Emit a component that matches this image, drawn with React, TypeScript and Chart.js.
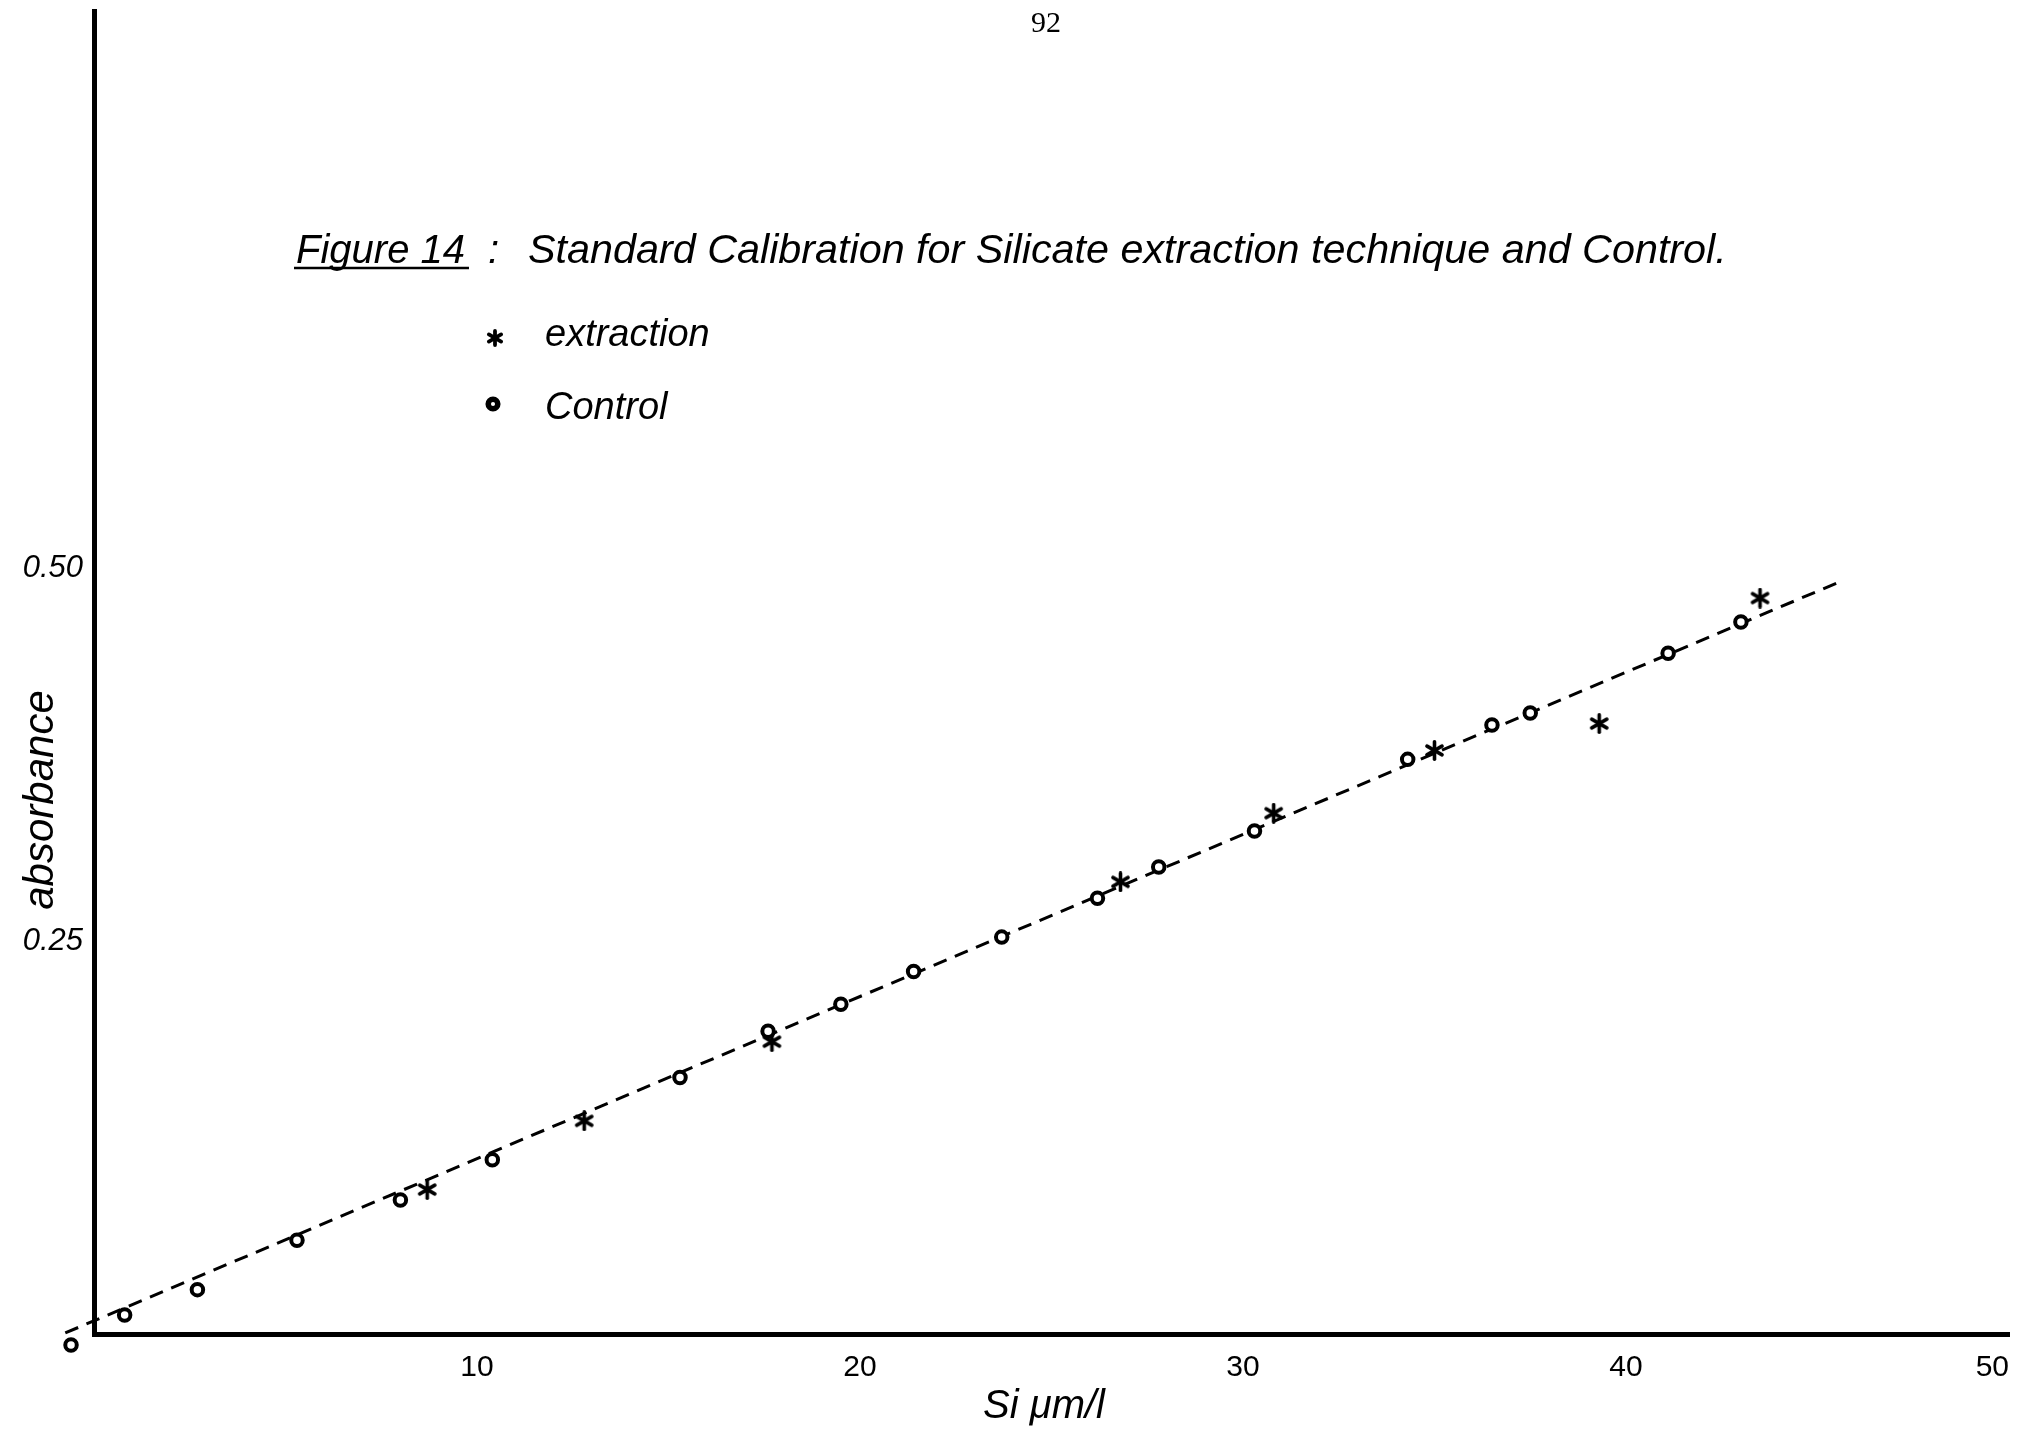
import React, { useEffect, useRef } from "react";
import { Chart, registerables } from "chart.js";

Chart.register(...registerables);

// ---------------- data ----------------
const controlSi = [-0.6, 0.8, 2.7, 5.3, 8.0, 10.4, 15.3, 17.6, 19.5, 21.4, 23.7, 26.2, 27.8, 30.3, 34.3, 36.5, 37.5, 41.1, 43.0];
const controlAbs = [-0.02, 0.0, 0.017, 0.05, 0.077, 0.104, 0.159, 0.19, 0.208, 0.23, 0.253, 0.279, 0.3, 0.324, 0.372, 0.395, 0.403, 0.443, 0.464];
const extractionSi = [8.7, 12.8, 17.7, 26.8, 30.8, 35.0, 39.3, 43.5];
const extractionAbs = [0.084, 0.13, 0.183, 0.29, 0.336, 0.378, 0.396, 0.48];
const fitSi = [-0.75, 45.5];
const fitAbs = [-0.012, 0.49];
const xTickValues = [10, 20, 30, 40, 50];
const yTickValues = [0.25, 0.5];
const yTickLabels = ["0.25", "0.50"];

const pageNumber = "92";
const figureLabel = "Figure 14";
const titleRest = "Standard Calibration for Silicate extraction technique and Control.";
const legendLabels = ["extraction", "Control"];
const xTitle = "Si \u03bcm/l";
const yTitle = "absorbance";

const HAND = '"Liberation Sans", Arial, sans-serif';
const SERIF = '"Liberation Serif", "DejaVu Serif", serif';

function makeAsterisk(size: number, lw: number): HTMLCanvasElement {
  const c = document.createElement("canvas");
  c.width = size;
  c.height = size;
  const g = c.getContext("2d")!;
  g.strokeStyle = "#000";
  g.lineWidth = lw;
  g.lineCap = "round";
  const cx = size / 2;
  const r = size / 2 - lw / 2;
  for (let k = 0; k < 3; k++) {
    const a = Math.PI / 2 + (k * Math.PI) / 3;
    g.beginPath();
    g.moveTo(cx + r * Math.cos(a), cx + r * Math.sin(a));
    g.lineTo(cx - r * Math.cos(a), cx - r * Math.sin(a));
    g.stroke();
  }
  return c;
}

export default function App() {
  const ref = useRef<HTMLCanvasElement>(null);

  useEffect(() => {
    const canvas = ref.current!;
    const star = makeAsterisk(21, 3.6);
    const legendStar = makeAsterisk(18, 3.8);

    // draws points that the library placed just outside the plot area
    const outsidePoints = {
      id: "outsidePoints",
      afterDatasetsDraw(chart: any) {
        const area = chart.chartArea;
        const big = { left: -1e5, top: -1e5, right: 1e5, bottom: 1e5 };
        chart.data.datasets.forEach((_d: any, i: number) => {
          const meta = chart.getDatasetMeta(i);
          for (const el of meta.data) {
            if (el.x < area.left || el.x > area.right || el.y < area.top || el.y > area.bottom) {
              el.draw(chart.ctx, big);
            }
          }
        });
      },
    };

    const annotations = {
      id: "handAnnotations",
      afterDraw(chart: any) {
        const ctx: CanvasRenderingContext2D = chart.ctx;
        ctx.save();
        ctx.fillStyle = "#000";
        ctx.strokeStyle = "#000";

        // page number
        ctx.font = `30px ${SERIF}`;
        ctx.textAlign = "center";
        ctx.textBaseline = "alphabetic";
        ctx.fillText(pageNumber, 1046, 32);

        // title
        ctx.textAlign = "left";
        ctx.font = `italic 40px ${HAND}`;
        ctx.fillText(figureLabel, 296, 263);
        const fw = ctx.measureText(figureLabel).width;
        ctx.lineWidth = 2.5;
        ctx.beginPath();
        ctx.moveTo(294, 268);
        ctx.lineTo(296 + fw + 4, 268);
        ctx.stroke();
        ctx.fillText(":", 488, 263);
        const rw = ctx.measureText(titleRest).width;
        const target = 1727 - 528;
        const size = (40 * target) / rw;
        ctx.font = `italic ${size.toFixed(2)}px ${HAND}`;
        ctx.fillText(titleRest, 528, 263);

        // legend
        ctx.drawImage(legendStar, 495 - legendStar.width / 2, 338 - legendStar.height / 2);
        ctx.lineWidth = 5.5;
        ctx.fillStyle = "#fff";
        ctx.beginPath();
        ctx.arc(493, 404, 4.8, 0, Math.PI * 2);
        ctx.fill();
        ctx.stroke();
        ctx.fillStyle = "#000";
        ctx.font = `italic 38px ${HAND}`;
        ctx.fillText(legendLabels[0], 545, 346);
        ctx.fillText(legendLabels[1], 545, 419);

        // x axis title
        ctx.textAlign = "center";
        ctx.font = `italic 40px ${HAND}`;
        ctx.fillText(xTitle, 1044, 1418);

        // y axis title
        ctx.translate(53, 800);
        ctx.rotate(-Math.PI / 2);
        ctx.font = `italic 42px ${HAND}`;
        ctx.fillText(yTitle, 0, 0);

        ctx.restore();
      },
    };

    const chart = new Chart(canvas, {
      type: "scatter",
      data: {
        datasets: [
          {
            label: legendLabels[1],
            data: controlSi.map((x, i) => ({ x, y: controlAbs[i] })),
            pointStyle: "circle",
            pointRadius: 5.75,
            pointBorderWidth: 4,
            pointBorderColor: "#000",
            pointBackgroundColor: "#fff",
            showLine: false,
            clip: false,
            order: 1,
          } as any,
          {
            label: legendLabels[0],
            data: extractionSi.map((x, i) => ({ x, y: extractionAbs[i] })),
            pointStyle: star,
            pointRadius: 10,
            showLine: false,
            clip: false,
            order: 2,
          } as any,
          {
            label: "fit",
            data: fitSi.map((x, i) => ({ x, y: fitAbs[i] })),
            showLine: true,
            borderColor: "#000",
            borderWidth: 3,
            borderDash: [14, 9],
            pointRadius: 0,
            clip: false,
            order: 3,
          } as any,
        ],
      },
      options: {
        responsive: false,
        maintainAspectRatio: false,
        animation: false,
        devicePixelRatio: 1,
        events: [],
        layout: { padding: { top: 10, right: 12, bottom: 0, left: 0 } },
        plugins: {
          legend: { display: false },
          tooltip: { enabled: false },
          title: { display: false },
        },
        scales: {
          x: {
            type: "linear",
            min: 0,
            max: 50,
            grid: { display: false, drawTicks: false },
            border: { display: true, width: 5, color: "#000" },
            afterBuildTicks: (s: any) => {
              s.ticks = [0, ...xTickValues].map((v) => ({ value: v }));
            },
            ticks: {
              align: "inner",
              padding: 16,
              color: "#000",
              maxRotation: 0,
              autoSkip: false,
              font: { family: HAND, size: 30 },
              callback: (v: any) => (xTickValues.includes(v) ? String(v) : ""),
            },
            afterFit: (s: any) => {
              s.height = 108;
              s.paddingLeft = 0;
              s.paddingRight = 0;
            },
          },
          y: {
            type: "linear",
            min: -0.0127,
            max: 0.873,
            grid: { display: false, drawTicks: false },
            border: { display: true, width: 5, color: "#000" },
            afterBuildTicks: (s: any) => {
              s.ticks = yTickValues.map((v) => ({ value: v }));
            },
            ticks: {
              padding: 11,
              color: "#000",
              autoSkip: false,
              font: { family: HAND, size: 31, style: "italic" },
              callback: (v: any) => {
                const i = yTickValues.indexOf(v);
                return i >= 0 ? yTickLabels[i] : "";
              },
            },
            afterFit: (s: any) => {
              s.width = 94;
              s.paddingTop = 0;
              s.paddingBottom = 0;
            },
          },
        },
      } as any,
      plugins: [outsidePoints, annotations],
    });

    return () => chart.destroy();
  }, []);

  return (
    <div style={{ position: "fixed", left: 0, top: 0, width: 2021, height: 1442, background: "#fff" }}>
      <canvas ref={ref} width={2021} height={1442} style={{ width: 2021, height: 1442, display: "block" }} />
    </div>
  );
}
